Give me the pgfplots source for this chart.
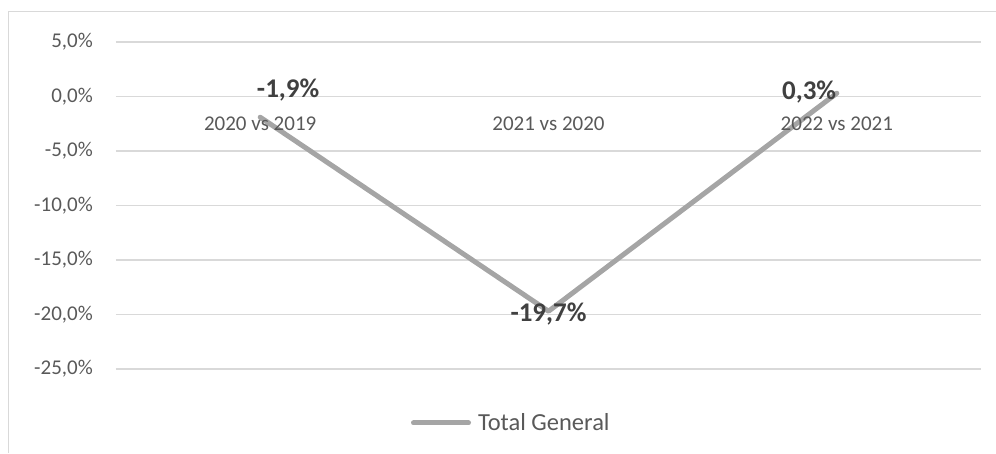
\documentclass[border=0pt]{standalone}
\usepackage{pgfplots}
\pgfplotsset{compat=1.18}
\usepackage{fontspec}
\setmainfont{Carlito}
\definecolor{gridc}{HTML}{D9D9D9}
\definecolor{linec}{HTML}{A5A5A5}
\definecolor{tickc}{HTML}{595959}
\definecolor{labc}{HTML}{404040}
\begin{document}
\begin{tikzpicture}
\path[use as bounding box] (-116pt,-84pt) rectangle (880pt,369pt);
\draw[gridc, line width=1pt] (-107pt,-84pt) -- (-107pt,357pt) -- (880pt,357pt);
\begin{axis}[
  at={(0pt,0pt)}, anchor=south west,
  scale only axis, width=865pt, height=327pt,
  xmin=-0.5, xmax=2.5, ymin=-25, ymax=5,
  axis line style={draw=none},
  xtick=\empty,
  ytick={-25,-20,-15,-10,-5,0,5},
  yticklabels={{-25,0\%},{-20,0\%},{-15,0\%},{-10,0\%},{-5,0\%},{0,0\%},{5,0\%}},
  yticklabel style={anchor=east, inner sep=0pt, xshift=-23pt, font=\fontsize{21}{25}\selectfont, text=tickc},
  major tick length=0pt,
  ymajorgrids, grid style={gridc, line width=1.2pt},
  clip=false,
  legend style={at={(0.457,-0.165)}, anchor=center, draw=none, fill=none,
    font=\fontsize{24.5}{28}\selectfont, text=tickc, legend cell align=left},
  legend image code/.code={\draw[#1, line width=5pt, line cap=round] (0pt,0pt) -- (55pt,0pt); \path (60pt,0pt);},
]
\addplot[linec, line width=5pt, line cap=round, line join=round, mark=none]
  coordinates {(0,-1.9) (1,-19.7) (2,0.3)};
\addlegendentry{Total General}
\foreach \i/\lab in {0/2020 vs 2019, 1/2021 vs 2020, 2/2022 vs 2021}{
  \edef\tmp{\noexpand\node[anchor=base, inner sep=0pt, text=tickc, font=\noexpand\fontsize{21}{25}\noexpand\selectfont] at (axis cs:\i,0) [yshift=-34pt] {\lab};}
  \tmp
}
\node[anchor=base, inner sep=0pt, text=labc, font=\fontsize{27}{32}\selectfont\bfseries] at (axis cs:0.097,-0.09) {-1,9\%};
\node[anchor=base, inner sep=0pt, text=labc, font=\fontsize{27}{32}\selectfont\bfseries] at (axis cs:1.0,-20.64) {-19,7\%};
\node[anchor=base, inner sep=0pt, text=labc, font=\fontsize{27}{32}\selectfont\bfseries] at (axis cs:1.904,-0.25) {0,3\%};
\end{axis}
\end{tikzpicture}
\end{document}
